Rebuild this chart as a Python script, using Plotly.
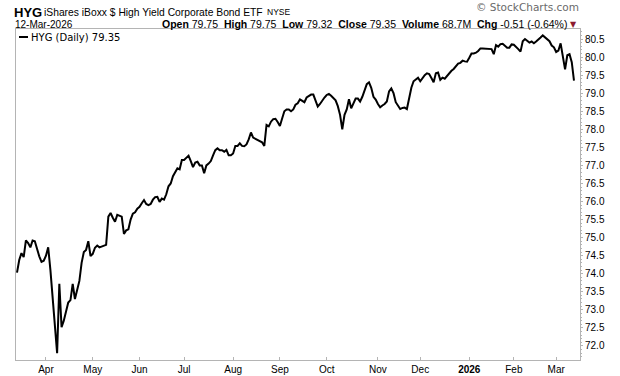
import pandas as pd
import plotly.graph_objects as go

# ---------------- data ----------------
holidays = ["2025-04-18", "2025-05-26", "2025-06-19", "2025-07-04", "2025-09-01",
            "2025-11-27", "2025-12-25", "2026-01-01", "2026-01-19", "2026-02-16"]
start_date = "2025-03-13"
end_date = "2026-03-12"

closes = [
    74.03, 74.38, 74.57, 74.46, 74.92, 74.85, 74.73, 74.92, 74.90, 74.65, 74.48, 74.33, 74.36,
    74.50, 74.73, 74.10, 73.30, 72.50, 71.80, 73.72, 72.52, 72.70, 72.95, 73.20, 73.27,
    73.72, 73.30, 73.55, 73.80, 74.30, 74.60, 74.66, 74.90, 74.49, 74.55, 74.72, 74.78, 74.73, 74.75, 74.77, 74.80,
    75.58, 75.68, 75.55, 75.44, 75.63, 75.60, 75.58, 75.10, 75.20, 75.23, 75.50, 75.66, 75.70, 75.80, 75.85, 75.95, 76.04, 75.93, 75.90, 75.93,
    76.05, 76.12, 76.13, 75.99, 76.08, 76.05, 76.20, 76.42, 76.50, 76.70, 76.82, 76.92, 76.89, 77.15, 77.15, 77.22, 77.27, 77.12, 76.95, 77.08,
    77.10, 77.00, 77.00, 76.78, 77.00, 77.05, 77.12, 77.28, 77.42, 77.47, 77.42, 77.42, 77.38, 77.43, 77.28, 77.28, 77.33, 77.54, 77.54, 77.61,
    77.54, 77.53, 77.58, 77.72, 77.91, 77.77, 77.74, 77.72, 77.68, 77.64, 77.54, 78.12, 78.08, 78.21, 78.28, 78.29, 78.20, 78.09, 78.30, 78.50,
    78.55, 78.55, 78.50, 78.55, 78.68, 78.72, 78.83, 78.80, 78.75, 78.88, 78.92, 78.96, 78.96, 78.82, 78.63, 78.70, 78.80, 78.88, 78.95, 78.98,
    78.93, 78.87, 78.80, 78.64, 78.40, 78.00, 78.40, 78.55, 78.83, 78.58, 78.72, 78.85, 78.85, 78.77, 78.90, 79.10, 79.25, 79.30, 79.15, 78.90,
    78.82, 78.70, 78.61, 78.66, 78.70, 78.77, 79.05, 79.13, 79.00, 78.75, 78.64, 78.56, 78.59, 78.60, 78.56, 78.90, 79.15, 79.33, 79.38, 79.43,
    79.33, 79.42, 79.50, 79.55, 79.53, 79.42, 79.30, 79.55, 79.57, 79.37, 79.43, 79.40, 79.47, 79.57, 79.62, 79.67, 79.75, 79.82, 79.84, 79.90,
    79.88, 79.87, 79.98, 80.10, 80.10, 80.12, 80.17, 80.24, 80.24, 80.24, 80.24, 80.24, 80.22, 80.08, 80.33, 80.29, 80.36, 80.37, 80.32, 80.26,
    80.26, 80.35, 80.34, 80.29, 80.22, 80.15, 80.44, 80.50, 80.44, 80.40, 80.43, 80.38, 80.43, 80.50, 80.54, 80.60, 80.54, 80.50, 80.44, 80.32,
    80.27, 80.14, 80.18, 80.38, 79.95, 79.66, 80.05, 80.08, 79.86, 79.35,
]

month_labels = ["Apr", "May", "Jun", "Jul", "Aug", "Sep", "Oct", "Nov", "Dec", "<b>2026</b>", "Feb", "Mar"]
y_ticks = [72.0, 72.5, 73.0, 73.5, 74.0, 74.5, 75.0, 75.5, 76.0, 76.5, 77.0, 77.5,
           78.0, 78.5, 79.0, 79.5, 80.0, 80.5]

# ---------------- trading-day axis ----------------
dates = pd.bdate_range(start_date, end_date)
dates = dates[~dates.isin(pd.to_datetime(holidays))]
assert len(dates) == len(closes)
idx = list(range(len(dates)))

month_first = []
seen = set()
for i, d in enumerate(dates):
    key = (d.year, d.month)
    if key not in seen:
        seen.add(key)
        if i > 0:
            month_first.append(i)

# ---------------- figure ----------------
W, H = 620, 376
L, R, T, B = 16, 580, 29, 360


def px(xp):
    return (xp - L) / (R - L)


def py(yp):
    return (B - yp) / (B - T)


fig = go.Figure()
fig.add_trace(go.Scatter(x=idx, y=closes, mode="lines",
                         line=dict(color="#000000", width=2),
                         hoverinfo="skip", showlegend=False))

axis_col = "#b4b4b4"
fig.update_layout(
    width=W, height=H,
    margin=dict(l=L, r=W - R, t=T, b=H - B, pad=0),
    paper_bgcolor="white", plot_bgcolor="white",
    font=dict(family="Liberation Sans, Arial, sans-serif", size=10, color="#000000"),
    xaxis=dict(
        range=[-0.45, 252.7], tickmode="array", tickvals=month_first, ticktext=month_labels,
        showgrid=False, zeroline=False, showline=True, linecolor=axis_col, linewidth=1,
        mirror=True, ticks="inside", ticklen=3, tickcolor=axis_col, automargin=False,
        tickfont=dict(size=10, color="#000000"),
    ),
    yaxis=dict(
        range=[71.61, 80.777], side="right", tickmode="array", tickvals=y_ticks,
        tickformat=".1f", showgrid=False, zeroline=False, showline=True, automargin=False,
        linecolor=axis_col, linewidth=1, mirror=True, ticks="outside", ticklen=2,
        tickcolor=axis_col, tickfont=dict(size=10, color="#000000"),
        minor=dict(dtick=0.1, ticks="outside", ticklen=1, tickcolor=axis_col),
    ),
)

ann = []


def add_text(xp, yp, text, size, anchor="left", color="#000000",
             family="Liberation Sans, Arial, sans-serif"):
    ann.append(dict(x=px(xp), y=py(yp), xref="paper", yref="paper", text=text,
                    showarrow=False, xanchor=anchor, yanchor="middle", borderpad=0,
                    font=dict(size=size, color=color, family=family)))


# header line 1
add_text(13, 12, "<b>HYG</b>", 13)
add_text(43, 12.5, "iShares iBoxx $ High Yield Corporate Bond ETF", 10.3)
add_text(266, 12.5, "NYSE", 8.5)
# copyright
add_text(580, 6.5, "© StockCharts.com", 10.5, anchor="right", color="#6a6a6a",
         family="DejaVu Sans, sans-serif")
# header line 2
add_text(14, 24, "12-Mar-2026", 10)
stats = ("<b>Open</b> 79.75  <b>High</b> 79.75  <b>Low</b> 79.32  <b>Close</b> 79.35  "
         "<b>Volume</b> 68.7M  <b>Chg</b> -0.51 (-0.64%)")
add_text(568, 24, stats, 10.5, anchor="right")
add_text(569, 24, "▼", 8, color="#8b1a2e", family="DejaVu Sans, sans-serif")
# legend text
add_text(30, 37, "HYG (Daily) 79.35", 10, family="DejaVu Sans, sans-serif")
fig.update_layout(annotations=ann)

fig.add_shape(type="line", xref="paper", yref="paper",
              x0=px(19), x1=px(28), y0=py(37), y1=py(37),
              line=dict(color="#000000", width=2))

fig.write_html("out.html", config={"displayModeBar": False},
               post_script="document.body.style.margin='0';")
